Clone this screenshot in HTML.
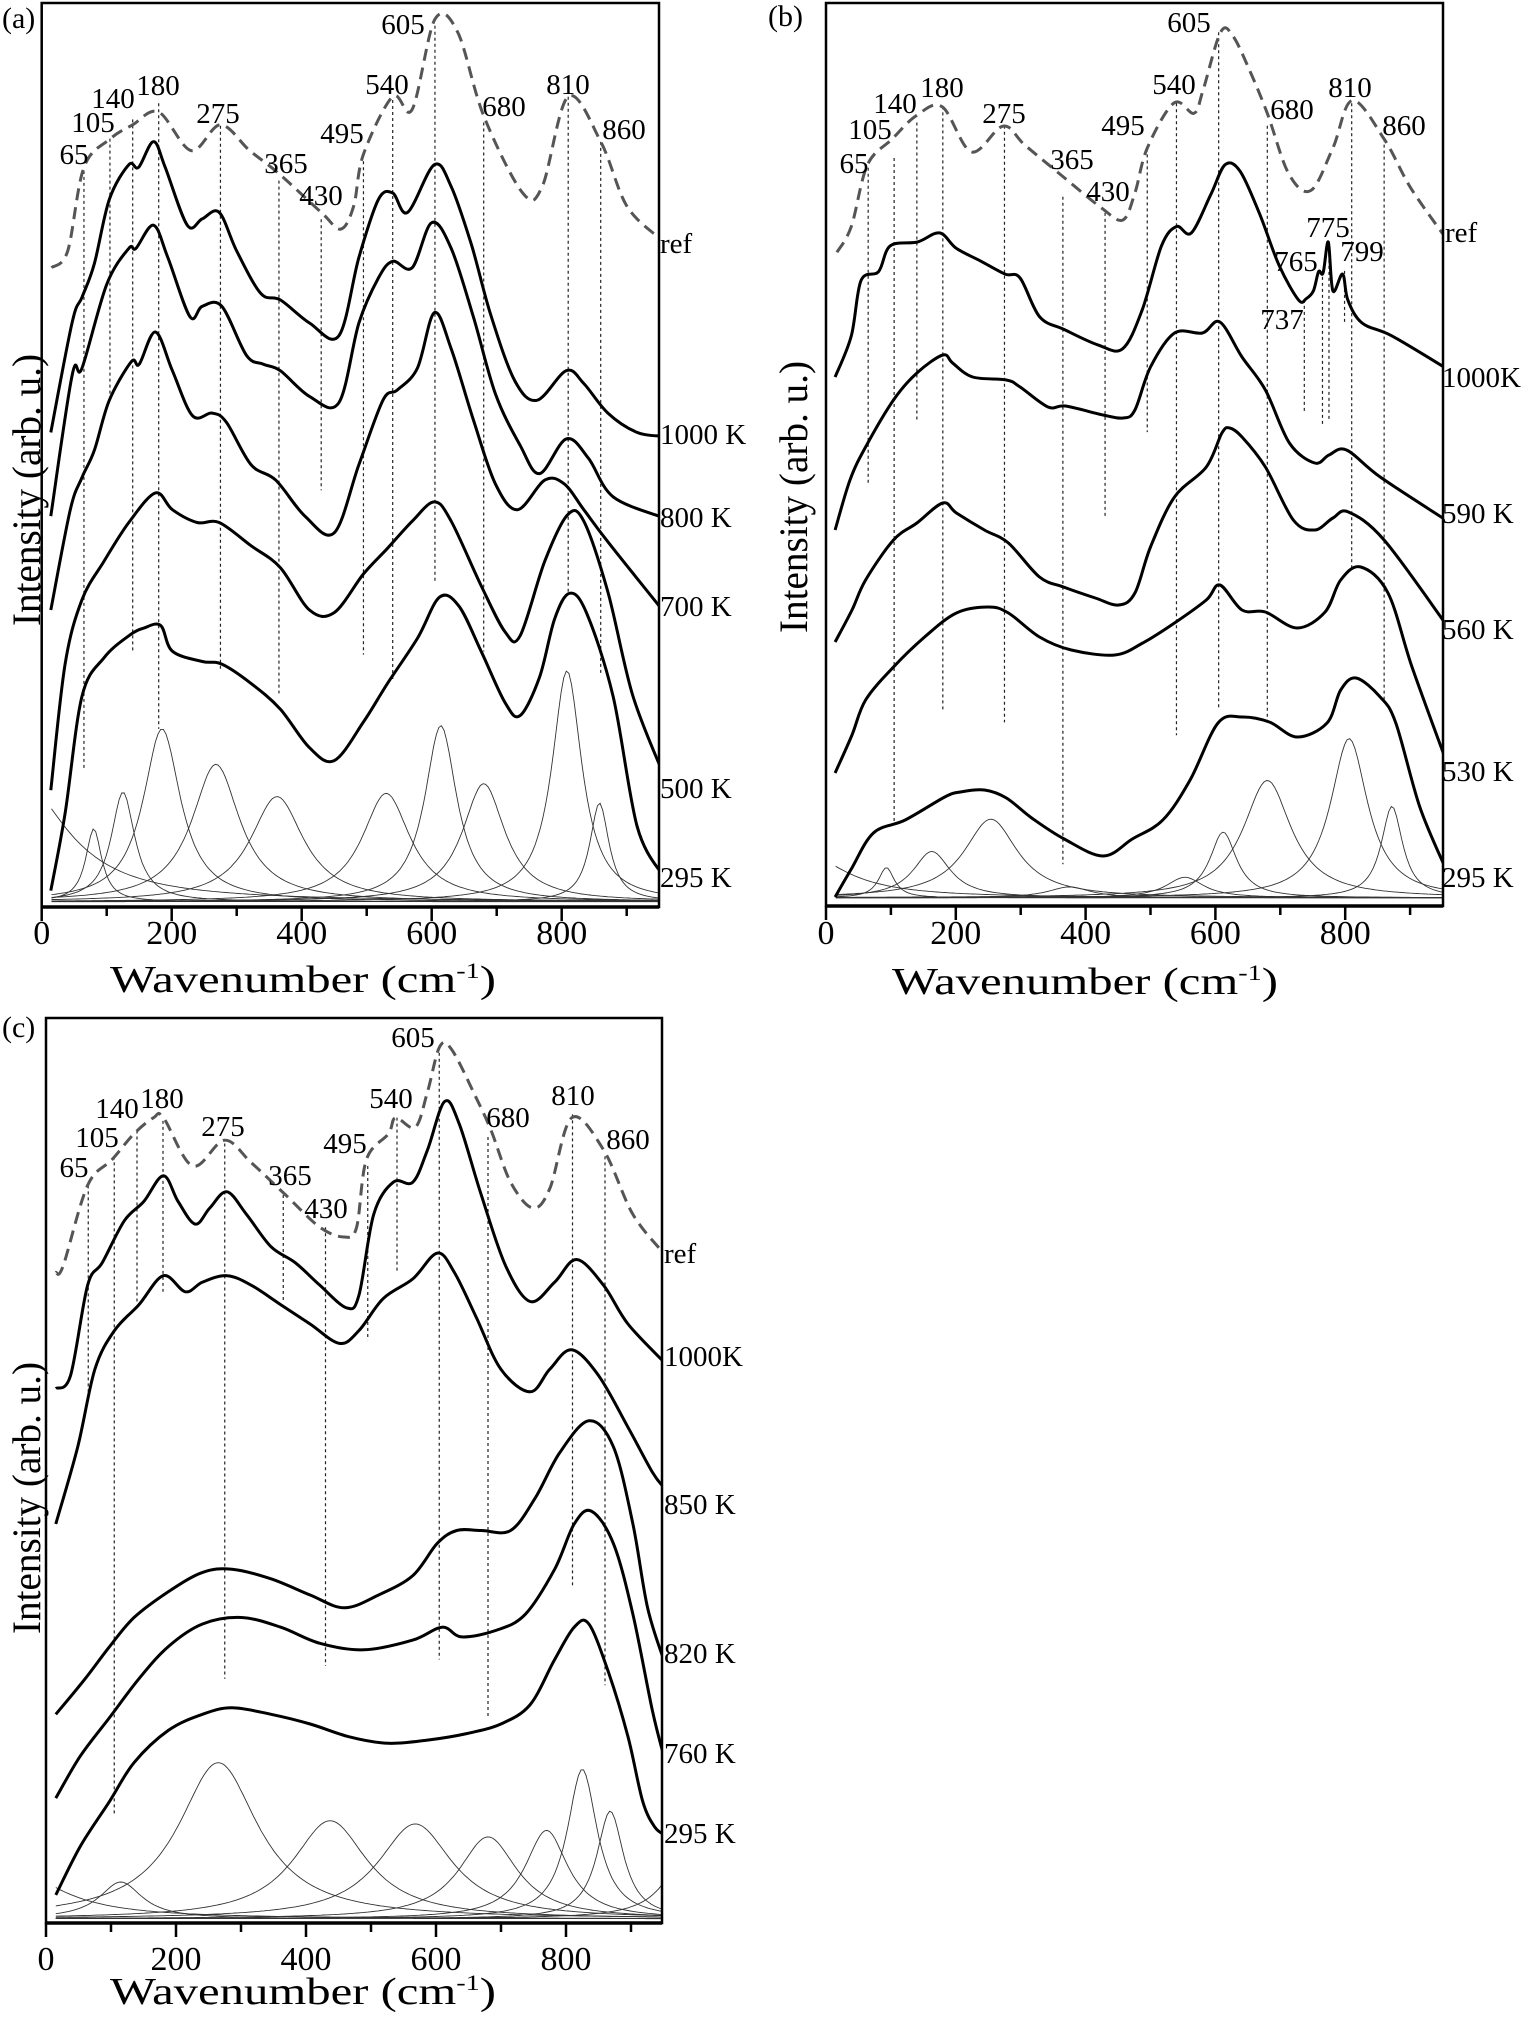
<!DOCTYPE html>
<html><head><meta charset="utf-8"><style>
html,body{margin:0;padding:0;background:#fff;}
svg{display:block;}
text{font-family:"Liberation Serif","DejaVu Serif",serif;fill:#000;}
</style></head><body>
<svg id="s" width="1528" height="2017" viewBox="0 0 1528 2017" xmlns="http://www.w3.org/2000/svg">
<g id="g"></g>
</svg>
<script>
var NS="http://www.w3.org/2000/svg",G=document.getElementById('g');
function el(t,a,txt){var e=document.createElementNS(NS,t);for(var k in a)e.setAttribute(k,a[k]);if(txt!=null)e.textContent=txt;G.appendChild(e);return e;}
function smooth(p){var d="M"+p[0][0].toFixed(1)+","+p[0][1].toFixed(1);
for(var i=0;i<p.length-1;i++){var p0=p[i-1]||p[i],p1=p[i],p2=p[i+1],p3=p[i+2]||p2;
var c1=[p1[0]+(p2[0]-p0[0])/6,p1[1]+(p2[1]-p0[1])/6],c2=[p2[0]-(p3[0]-p1[0])/6,p2[1]-(p3[1]-p1[1])/6];
d+="C"+c1[0].toFixed(1)+","+c1[1].toFixed(1)+" "+c2[0].toFixed(1)+","+c2[1].toFixed(1)+" "+p2[0].toFixed(1)+","+p2[1].toFixed(1);}
return d;}
function panel(P){
 var X=function(w){return P.x0+P.sx*w;};
 var id='c'+P.name;
 var cp=document.createElementNS(NS,'clipPath');cp.setAttribute('id',id);var r=document.createElementNS(NS,'rect');
 r.setAttribute('x',P.x0);r.setAttribute('y',P.top);r.setAttribute('width',P.right-P.x0);r.setAttribute('height',P.bot-P.top);cp.appendChild(r);G.appendChild(cp);
 P.lor.forEach(function(L){var pts=[];for(var w=15;w<=952;w+=4){var y=P.lb-(P.lb-L[1])/(1+Math.pow((w-L[0])/L[2],2));pts.push([X(w),P.ly(y)]);}
  el('path',{d:"M"+pts.map(function(q){return q[0].toFixed(1)+","+q[1].toFixed(1)}).join("L"),fill:'none',stroke:'#333','stroke-width':0.9,'clip-path':'url(#'+id+')'});});
 P.dl.forEach(function(L){el('line',{x1:X(L[0]),x2:X(L[0]),y1:P.ly(L[1]),y2:P.ly(L[2]),stroke:'#222','stroke-width':1.2,'stroke-dasharray':'3,3'});});
 el('path',{d:smooth(P.ref.map(function(q){return [X(q[0]),P.cy(q[1])]})),fill:'none',stroke:'#555','stroke-width':3,'stroke-dasharray':'12,7','clip-path':'url(#'+id+')'});
 P.curves.forEach(function(c){
  var pts=c.map(function(q){return [X(q[0]),P.cy(q[1])]});
  el('path',{d:smooth(pts),fill:'none',stroke:'#000','stroke-width':3,'stroke-linejoin':'round','clip-path':'url(#'+id+')'});});
 el('rect',{x:P.x0,y:P.top,width:P.right-P.x0,height:P.bot-P.top,fill:'none',stroke:'#000','stroke-width':2.5});
 el('line',{x1:P.x0,x2:P.right,y1:P.bot,y2:P.bot,stroke:'#000','stroke-width':3.5});
 for(var w=0;w<=900;w+=100){el('line',{x1:X(w),x2:X(w),y1:P.bot,y2:P.bot+(w%200==0?14:9),stroke:'#000','stroke-width':2.5});}
 for(var w=0;w<=800;w+=200){el('text',{x:X(w),y:P.tly,'font-size':34,'text-anchor':'middle'},String(w));}
 var t=el('text',{x:P.tx,y:P.tty,'font-size':38,textLength:386,lengthAdjust:'spacingAndGlyphs'});
 t.innerHTML='Wavenumber (cm<tspan dy="-14" font-size="22">-1</tspan><tspan dy="14">)</tspan>';
 el('text',{x:0,y:0,'font-size':40,'text-anchor':'middle',textLength:272,lengthAdjust:'spacingAndGlyphs',transform:'translate('+P.yl[0]+','+P.yl[1]+') rotate(-90)'},'Intensity (arb. u.)');
 el('text',{x:P.lab[0],y:P.lab[1],'font-size':30},P.lab[2]);
 P.ann.forEach(function(a){el('text',{x:a[1],y:a[2],'font-size':29,'text-anchor':'middle'},a[0]);});
 P.tl.forEach(function(a){el('text',{x:a[1],y:a[2],'font-size':29},a[0]);});
}
var dy=function(y){return y*1.287;};
var za=function(y){return y*0.645;};
var idn=function(y){return y;};
function D(a){return a.map(function(q){return [q[0],q[1]*1.287];});}
// Panel A
panel({name:'a',x0:41.7,sx:0.65,right:659,top:3,bot:907,cy:dy,ly:za,lb:1398,tly:944,tty:992,tx:110,yl:[40,490],lab:[2,28,'(a)'],
lor:[[80,1285,15],[125,1228,22],[185,1130,35],[268,1185,45],[362,1235,50],[530,1230,45],[614,1125,30],[680,1215,40],[808,1040,28],[858,1245,18],[-40,1200,90]],
dl:[[65,265,1195],[105,215,620],[140,185,1010],[180,160,1130],[275,195,1040],[365,280,1075],[430,340,760],[495,250,1015],[540,155,1055],[605,40,905],[680,190,1010],[810,150,920],[860,220,1045]],
ref:[[15,208],[40,195],[65,130],[105,108],[140,97],[180,87],[230,117],[275,97],[320,117],[365,135],[430,165],[460,178],[480,160],[495,120],[540,75],[570,85],[605,15],[640,25],[680,90],[740,150],[770,145],[810,75],[860,110],[900,160],[950,185]],
curves:[
[[14,336],[47,250],[62,231],[81,205],[104,155],[134,128],[149,130],[172,110],[190,130],[224,175],[247,170],[273,165],[300,195],[337,228],[367,233],[412,251],[457,261],[488,200],[518,155],[540,150],[563,165],[604,128],[630,145],[661,190],[691,245],[728,296],[762,311],[807,288],[834,298],[871,321],[916,336],[955,339]],
[[14,401],[47,291],[62,286],[100,221],[134,193],[145,193],[172,175],[194,200],[228,246],[247,238],[277,238],[315,276],[341,283],[367,288],[412,308],[457,313],[488,251],[518,216],[540,203],[570,208],[600,173],[630,193],[664,246],[698,306],[736,346],[766,368],[807,341],[841,356],[879,386],[955,402]],
[[14,474],[44,396],[62,371],[81,350],[104,311],[138,281],[150,283],[175,258],[201,288],[232,323],[262,321],[284,328],[322,361],[360,373],[405,401],[450,414],[488,361],[525,311],[547,303],[578,286],[604,243],[630,271],[664,326],[698,376],[732,396],[774,373],[804,376],[834,396],[871,421],[955,474]],
[[14,614],[36,516],[62,466],[96,436],[134,406],[175,383],[201,396],[239,406],[273,406],[322,424],[367,441],[412,474],[450,476],[495,446],[532,426],[570,405],[604,390],[630,405],[676,455],[713,491],[736,494],[774,436],[809,400],[834,405],[871,460],[909,540],[955,600]],
[[14,692],[36,632],[62,541],[96,511],[134,494],[157,488],[183,486],[201,506],[247,514],[277,516],[322,531],[367,551],[412,581],[450,591],[495,561],[532,531],[578,496],[612,464],[642,471],[676,506],[713,546],[736,556],[766,526],[789,481],[812,461],[838,476],[879,541],[916,642],[955,680]]],
ann:[['65',74,164],['105',93,132],['140',113,108],['180',158,95],['275',218,123],['365',286,173],['430',321,205],['495',342,143],['540',387,94],['605',403,34],['680',504,116],['810',568,94],['860',624,139]],
tl:[['ref',660,253],['1000 K',660,444],['800 K',660,527],['700 K',660,616],['500 K',660,798],['295 K',660,887]]});
// Panel B
panel({name:'b',x0:826,sx:0.649,right:1443,top:3,bot:906,cy:idn,ly:za,lb:1392,tly:944,tty:994,tx:892,yl:[807,497],lab:[768,26,'(b)'],
lor:[[93,1345,15],[163,1320,35],[254,1270,50],[375,1375,40],[553,1360,35],[612,1290,25],[680,1210,45],[806,1145,35],[872,1250,20],[-40,1320,80]],
dl:[[65,260,750],[105,245,1275],[140,190,655],[180,165,1100],[275,195,1120],[365,305,1340],[430,330,800],[495,230,670],[540,160,1140],[605,50,1100],[680,195,1120],[737,465,640],[765,420,660],[775,375,650],[799,420,500],[810,160,880],[860,215,1090]],
ref:D([[17,196],[39,176],[64,128],[102,108],[139,90],[179,83],[224,118],[273,98],[307,113],[367,138],[423,161],[457,171],[476,150],[495,115],[536,80],[567,88],[581,70],[608,25],[627,28],[653,55],[680,88],[713,135],[747,148],[781,115],[811,78],[860,108],[901,146],[955,185]]),
curves:[
D([[14,293],[39,261],[54,218],[81,211],[99,191],[141,188],[175,181],[201,193],[239,203],[276,213],[299,216],[329,246],[367,256],[419,268],[457,271],[487,241],[517,191],[540,176],[563,181],[593,151],[615,128],[638,133],[668,166],[698,206],[728,233],[740,232],[751,226],[759,211],[766,212],[774,188],[781,226],[796,213],[804,233],[826,251],[872,261],[955,286]]),
[[14,530],[37,480],[61,447],[104,400],[140,373],[180,355],[195,363],[226,377],[278,380],[299,387],[342,407],[369,406],[427,415],[458,418],[476,410],[500,367],[537,333],[580,333],[607,322],[641,357],[677,390],[714,443],[753,463],[775,455],[802,450],[854,477],[955,520]],
[[14,642],[40,610],[61,580],[104,540],[140,523],[180,503],[201,513],[244,530],[281,543],[329,577],[366,587],[415,598],[451,605],[476,593],[500,547],[537,497],[586,467],[610,433],[622,428],[641,437],[677,467],[720,520],[753,530],[781,518],[805,512],[860,540],[955,624]],
[[14,773],[40,735],[61,700],[104,667],[152,637],[201,613],[250,607],[281,613],[329,637],[378,650],[445,655],[488,643],[537,623],[586,600],[607,585],[641,610],[677,612],[726,628],[769,612],[793,580],[824,567],[866,593],[903,667],[955,760]],
[[14,897],[39,869],[73,833],[122,820],[183,797],[207,792],[244,790],[278,798],[317,818],[367,839],[427,856],[472,839],[519,820],[561,780],[604,723],[641,717],[683,722],[726,737],[772,723],[793,690],[817,678],[854,697],[878,723],[915,807],[955,869]]],
ann:[['65',854,173],['105',870,139],['140',895,113],['180',942,97],['275',1004,123],['365',1072,169],['430',1108,201],['495',1123,135],['540',1174,94],['605',1189,32],['680',1292,119],['810',1350,97],['860',1404,135],['775',1328,237],['765',1296,271],['799',1362,261],['737',1282,329]],
tl:[['ref',1445,242],['1000K',1442,387],['590 K',1442,523],['560 K',1442,639],['530 K',1442,781],['295 K',1442,887]]});
// Panel C
var zc=function(y){return 1008+0.645*y;};
function W(a){return a.map(function(q){return [(q[0]-100)/1.329,q[1]];});}
panel({name:'c',x0:46,sx:0.65,right:662,top:1018,bot:1923,cy:zc,ly:zc,lb:1412,tly:1970,tty:2004,tx:110,yl:[40,1498],lab:[2,1037,'(c)'],
lor:[[115,1355,40],[265,1170,75],[437,1260,70],[568,1265,70],[680,1285,55],[770,1275,40],[825,1180,28],[868,1245,25],[990,1300,40],[-60,1330,90]],
dl:[[65,275,595],[105,230,1250],[140,190,455],[180,175,440],[275,210,1040],[365,290,455],[430,340,1020],[495,245,515],[540,170,410],[605,60,1010],[680,200,1100],[810,165,895],[860,230,1050]],
ref:W([[120,410],[135,400],[185,275],[235,235],[280,195],[320,170],[340,170],[400,245],[465,205],[520,240],[590,290],[660,340],[710,355],[735,340],[755,235],[800,195],[815,170],[855,185],[880,130],[905,60],[930,65],[980,140],[1010,190],[1050,270],[1095,310],[1130,280],[1175,170],[1240,220],[1300,320],[1365,382]]),
curves:[
W([[120,590],[150,570],[185,430],[215,395],[260,330],[300,300],[340,260],[370,300],[405,335],[435,310],[470,285],[510,320],[560,370],[610,395],[660,430],[715,465],[740,445],[770,320],[810,270],[850,270],[880,220],[915,145],[945,180],[990,290],[1040,400],[1090,455],[1140,425],[1185,390],[1240,430],[1290,490],[1365,550]]),
W([[120,800],[165,680],[200,560],[240,500],[290,460],[340,415],[385,440],[420,425],[470,415],[520,430],[580,460],[640,490],[700,520],[740,500],[790,450],[850,420],[900,380],[935,410],[980,480],[1030,560],[1090,595],[1130,560],[1175,530],[1230,570],[1290,650],[1340,720],[1365,745]]),
W([[120,1095],[180,1040],[230,990],[280,945],[350,905],[420,875],[480,870],[560,885],[640,910],[710,930],[780,910],[850,880],[900,830],[940,810],[990,810],[1050,810],[1100,760],[1150,690],[1210,640],[1260,680],[1300,800],[1330,930],[1365,1015]]),
W([[120,1225],[170,1160],[230,1100],[290,1040],[350,990],[420,955],[500,945],[580,960],[660,985],[750,995],[850,980],[910,960],[950,975],[1020,965],[1080,940],[1140,870],[1180,800],[1215,780],[1260,830],[1300,940],[1340,1090],[1365,1165]]),
W([[120,1375],[170,1300],[230,1230],[280,1170],[350,1120],[420,1095],[480,1085],[560,1095],[640,1110],[720,1130],[800,1140],[880,1135],[960,1125],[1030,1110],[1090,1080],[1140,1010],[1180,960],[1210,955],[1250,1030],[1290,1130],[1320,1230],[1345,1270],[1365,1282]])],
ann:[['65',74,1177],['105',97,1147],['140',117,1118],['180',162,1108],['275',223,1136],['365',290,1185],['430',326,1218],['495',345,1153],['540',391,1108],['605',413,1047],['680',508,1127],['810',573,1105],['860',628,1149]],
tl:[['ref',664,1263],['1000K',664,1366],['850 K',664,1514],['820 K',664,1663],['760 K',664,1763],['295 K',664,1843]]});
</script>
</body></html>
